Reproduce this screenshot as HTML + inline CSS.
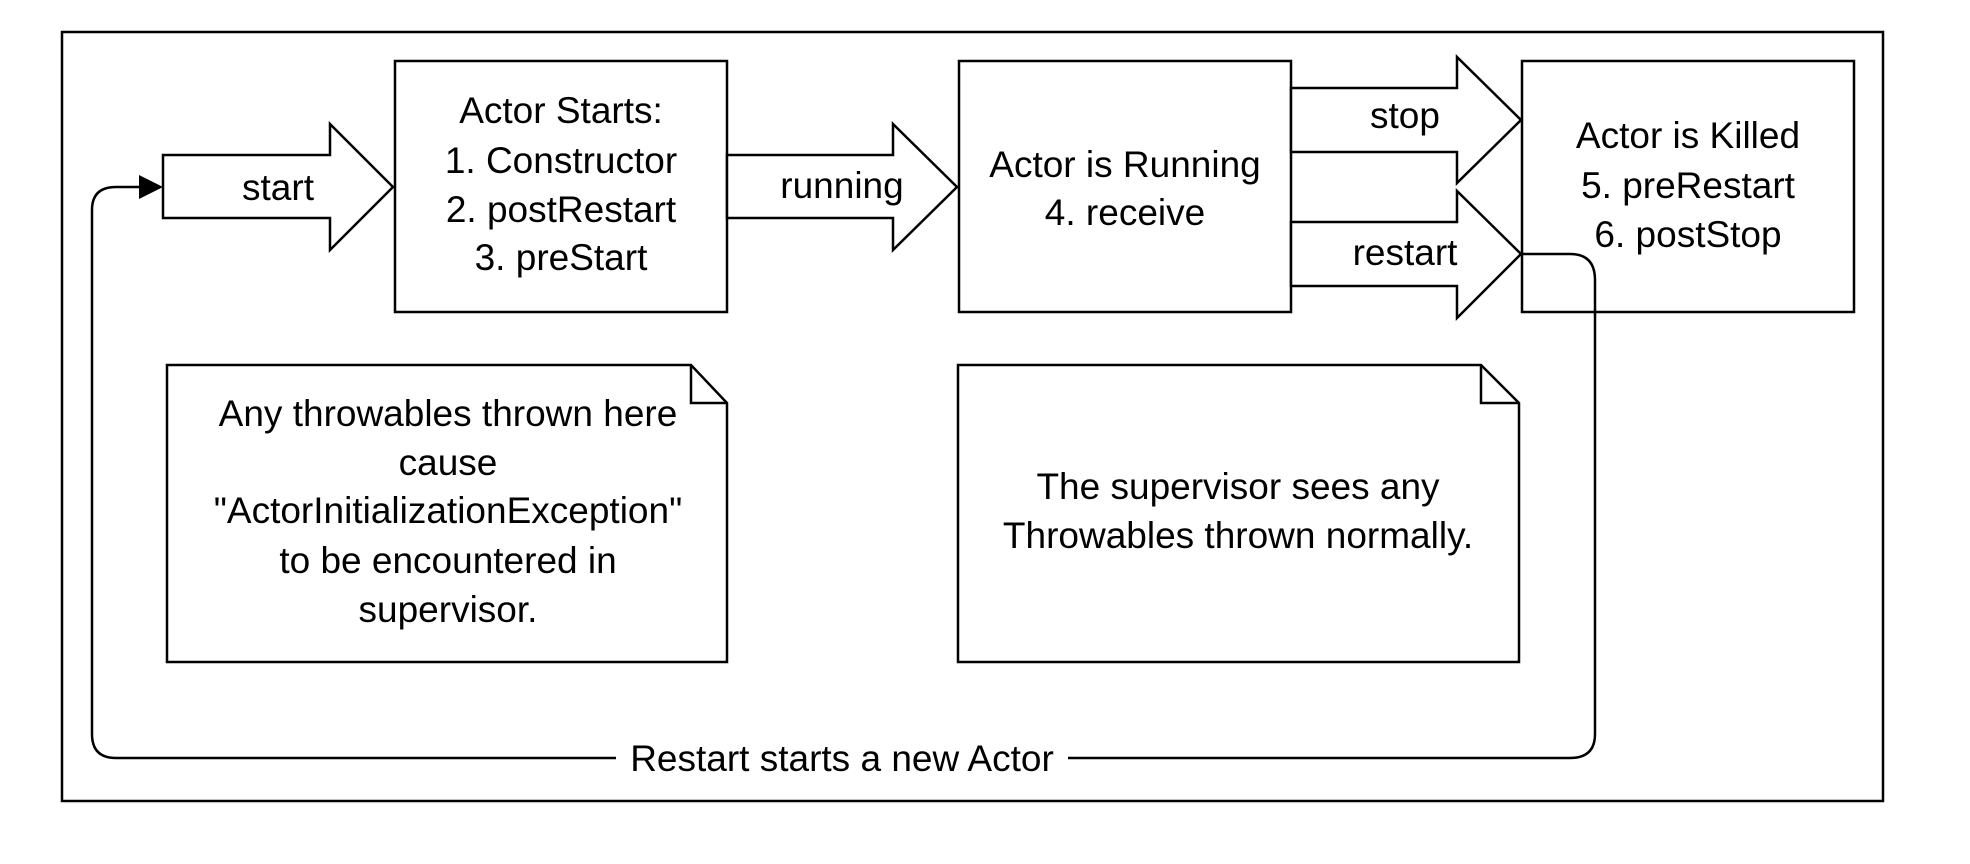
<!DOCTYPE html>
<html><head><meta charset="utf-8"><style>
html,body{margin:0;padding:0;background:#fff;}
svg{display:block;}
text{font-family:"Liberation Sans",sans-serif;font-size:37px;fill:#000;text-anchor:middle;}
</style></head><body>
<svg width="1970" height="864" viewBox="0 0 1970 864" xmlns="http://www.w3.org/2000/svg">
<g fill="#fff" stroke="#000" stroke-width="2.5">
<rect x="62" y="32" width="1821" height="769"/>
<polygon points="163,155 330,155 330,124 393,187 330,250 330,218 163,218"/>
<rect x="395" y="61" width="332" height="251"/>
<polygon points="727,155 893,155 893,124 957,187 893,250 893,218 727,218"/>
<rect x="959" y="61" width="332" height="251"/>
<polygon points="1291,88 1457,88 1457,57 1521,120 1457,183 1457,152 1291,152"/>
<polygon points="1291,222 1457,222 1457,191 1521,254 1457,318 1457,286 1291,286"/>
<rect x="1522" y="61" width="332" height="251"/>
<polygon points="167,365 691,365 727,403 727,662 167,662"/>
<polyline points="691,365 691,403 727,403" fill="none"/>
<polygon points="958,365 1481,365 1519,403 1519,662 958,662"/>
<polyline points="1481,365 1481,403 1519,403" fill="none"/>
<path d="M1521,254 H1570 Q1595,254 1595,280 V734 Q1595,758 1570,758 H1068 M616,758 H116 Q92,758 92,734 V210 Q92,187 116,187 H142" fill="none"/>
</g>
<polygon points="139,175 163,187 139,199" fill="#000"/>
<text x="278" y="200">start</text>
<text x="561" y="123">Actor Starts:</text>
<text x="561" y="173">1. Constructor</text>
<text x="561" y="222">2. postRestart</text>
<text x="561" y="270">3. preStart</text>
<text x="842" y="198">running</text>
<text x="1125" y="177">Actor is Running</text>
<text x="1125" y="225">4. receive</text>
<text x="1405" y="128">stop</text>
<text x="1405" y="265">restart</text>
<text x="1688" y="148">Actor is Killed</text>
<text x="1688" y="198">5. preRestart</text>
<text x="1688" y="247">6. postStop</text>
<text x="448" y="426">Any throwables thrown here</text>
<text x="448" y="475">cause</text>
<text x="448" y="523">"ActorInitializationException"</text>
<text x="448" y="573">to be encountered in</text>
<text x="448" y="622">supervisor.</text>
<text x="1238" y="499">The supervisor sees any</text>
<text x="1238" y="548">Throwables thrown normally.</text>
<text x="842" y="771">Restart starts a new Actor</text>
</svg>
</body></html>
